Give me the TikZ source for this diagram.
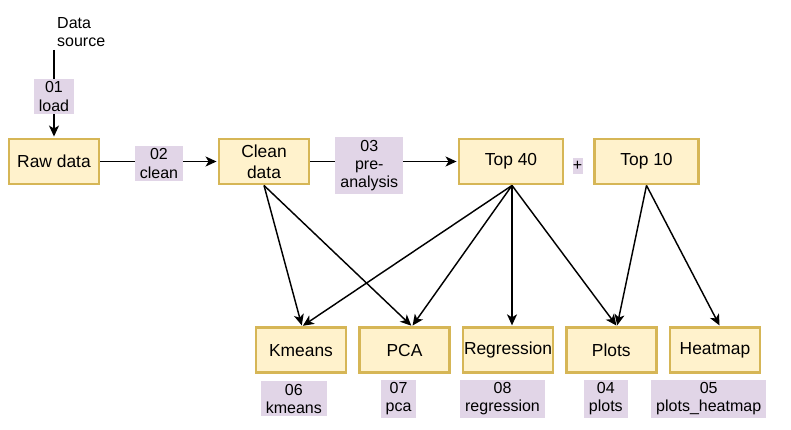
\documentclass[tikz,border=0pt]{standalone}
\usepackage{fontspec}
\setmainfont{Liberation Sans}
\usetikzlibrary{arrows.meta}
\definecolor{boxfill}{HTML}{FFF2CC}
\definecolor{boxline}{HTML}{D6B656}
\definecolor{lblfill}{HTML}{E1D5E7}
\newcommand{\bw}{90pt}
\newcommand{\bh}{45pt}

\begin{document}
\begin{tikzpicture}[x=1pt, y=-1pt,
    box/.style={draw=boxline, fill=boxfill, line width=2.9pt, rectangle, minimum width=\bw, minimum height=\bh, inner sep=0pt, align=center, font=\fontsize{17.4}{20.9}\selectfont},
    wbox/.style={box, minimum width=104pt},
    lbl/.style={fill=lblfill, inner xsep=5pt, inner ysep=2.5pt, align=center, font=\fontsize{16}{18.4}\selectfont},
    arr/.style={line width=1.45pt, shorten >=1pt, -{Stealth[length=11pt, width=10pt, inset=3pt]}}]
    \useasboundingbox (0,0) rectangle (791,430);

    % Top row
    \node[anchor=south west, inner sep=3pt, align=left, font=\fontsize{16}{18.4}\selectfont] (src) at (54,50) {Data\\source};
    \node[box] (raw) at (54,161.5) {Raw data};
    \node[box] (clean) at (264,161.5) {Clean\\data};
    \node[wbox] (top40) at (511,161.5) {Top 40};
    \node[fill=lblfill, inner sep=0pt, minimum width=10pt, minimum height=16pt, font=\fontsize{16}{18.4}\selectfont] (plus) at (577.5,166.3) {+};
    \node[wbox] (top10) at (646.5,161.5) {Top 10};

    % Bottom row
    \node[box] (kmeans) at (301,350.3) {Kmeans};
    \node[box] (pca) at (404.5,350.3) {PCA};
    \node[box] (regr) at (508,350.3) {Regression};
    \node[box] (plots) at (611.3,350.3) {Plots};
    \node[box] (heat) at (715,350.3) {Heatmap};

    % Script labels
    \node[lbl] (lbl-kmeans) at (293.8,398.8) {06\\kmeans};
    \node[lbl] (lbl-pca) at (398.5,398.8) {07\\pca};
    \node[lbl] (lbl-regr) at (502.5,398.8) {08\\regression};
    \node[lbl] (lbl-plots) at (605.8,398.8) {04\\plots};
    \node[lbl] (lbl-heat) at (708.7,398.8) {05\\plots\_heatmap};

    % Arrows
    \draw[arr] (src.south west) -- node[lbl, pos=0.53] {01\\load} (raw.north);
    \draw[arr] (raw) -- node[lbl, yshift=-2pt] {02\\clean} (clean);
    \draw[arr] (clean) -- node[lbl, pos=0.4, yshift=-4pt] {03\\pre-\\analysis} (top40);

    \draw[arr] (clean.south) -- ([xshift=1pt]kmeans.north);
    \draw[arr] (clean.south) -- ([xshift=7.5pt]pca.north);
    \draw[arr] ([xshift=1pt]top40.south) -- ([xshift=1pt]kmeans.north);
    \draw[arr] ([xshift=1pt]top40.south) -- ([xshift=7.5pt]pca.north);
    \draw[arr] ([xshift=1pt]top40.south) -- ([xshift=4pt]regr.north);
    \draw[arr] ([xshift=1pt]top40.south) -- ([xshift=5.7pt]plots.north);
    \draw[arr] (top10.south) -- ([xshift=5.7pt]plots.north);
    \draw[arr] (top10.south) -- ([xshift=5pt]heat.north);
\end{tikzpicture}
\end{document}
